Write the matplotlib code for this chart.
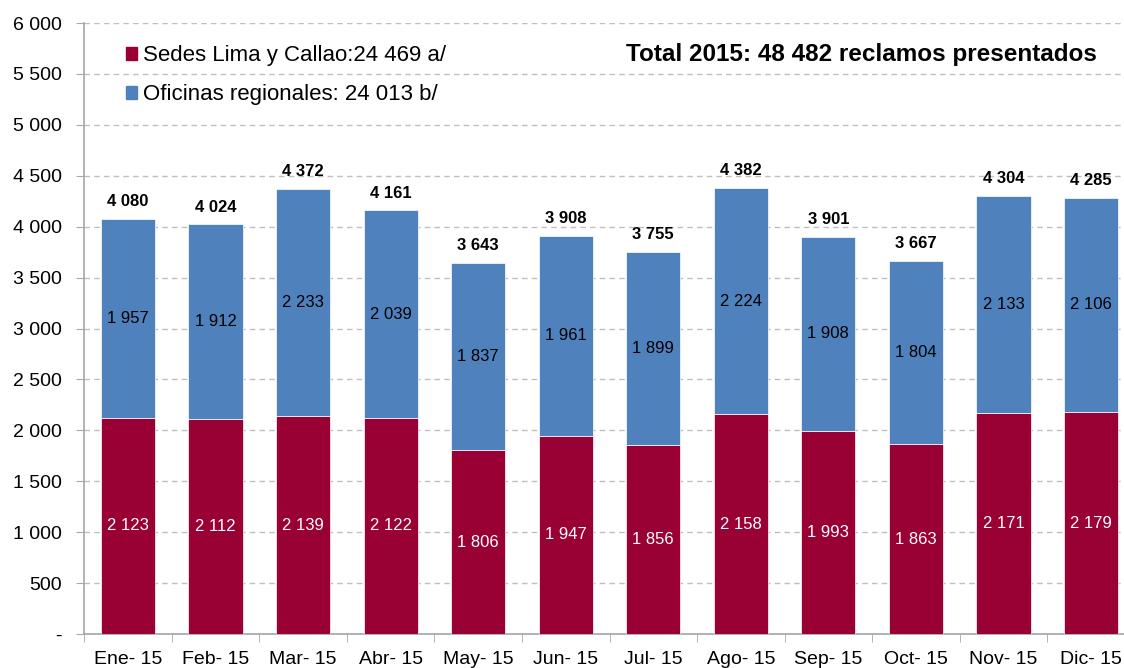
import numpy as np
import matplotlib
matplotlib.use('Agg')
import matplotlib.pyplot as plt
from matplotlib.patches import Patch

plt.rcParams['font.family'] = ['Liberation Sans', 'DejaVu Sans']

meses = ['Ene- 15', 'Feb- 15', 'Mar- 15', 'Abr- 15', 'May- 15', 'Jun- 15',
         'Jul- 15', 'Ago- 15', 'Sep- 15', 'Oct- 15', 'Nov- 15', 'Dic- 15']
lima = [2123, 2112, 2139, 2122, 1806, 1947, 1856, 2158, 1993, 1863, 2171, 2179]
regional = [1957, 1912, 2233, 2039, 1837, 1961, 1899, 2224, 1908, 1804, 2133, 2106]
totales = [4080, 4024, 4372, 4161, 3643, 3908, 3755, 4382, 3901, 3667, 4304, 4285]
yticks = [0, 500, 1000, 1500, 2000, 2500, 3000, 3500, 4000, 4500, 5000, 5500, 6000]


def fmt(v):
    return f'{v:,}'.replace(',', ' ') if v else '-'


red = '#990033'
blue = '#4F81BD'
grey = '#A6A6A6'

fig = plt.figure(figsize=(11.24, 6.68), dpi=100)
ax = fig.add_axes([84.25 / 1124, 34 / 668, 1050.5 / 1124, 611 / 668])

x = np.arange(len(meses))
w = 0.62
ax.bar(x, lima, w, color=red, edgecolor='white', lw=0.5, zorder=3)
ax.bar(x, regional, w, bottom=lima, color=blue, edgecolor='white', lw=0.5, zorder=3)

for i in range(len(meses)):
    ax.text(x[i], lima[i] / 2, fmt(lima[i]), ha='center', va='center',
            color='white', fontsize=12, zorder=4)
    ax.text(x[i], lima[i] + regional[i] / 2, fmt(regional[i]), ha='center',
            va='center', color='black', fontsize=12, zorder=4)
    ax.annotate(fmt(totales[i]), (x[i], lima[i] + regional[i]), xytext=(0, 7),
                textcoords='offset points', ha='center', va='bottom',
                fontsize=12, fontweight='bold')

ax.set_xlim(-0.5, 11.5)
ax.set_ylim(0, 6000)
ax.set_yticks(yticks)
ax.set_yticklabels([fmt(v) for v in yticks], fontsize=14)
ax.set_xticks(x)
ax.set_xticklabels(meses, fontsize=14)
ax.set_xticks(np.arange(-0.5, 12, 1), minor=True)
ax.tick_params(axis='x', which='major', length=0, pad=12)
ax.tick_params(axis='x', which='minor', length=6, color=grey, direction='out')
ax.tick_params(axis='y', length=6, color=grey, pad=10)

ax.yaxis.grid(True, ls=(0, (4, 3)), color='#BFBFBF', lw=1, zorder=0)
ax.set_axisbelow(True)
for s in ['top', 'right']:
    ax.spines[s].set_visible(False)
for s in ['left', 'bottom']:
    ax.spines[s].set_color(grey)
    ax.spines[s].set_linewidth(1.2)

handles = [Patch(color=red), Patch(color=blue)]
ax.legend(handles, ['Sedes Lima y Callao:24 469 a/', 'Oficinas regionales: 24 013 b/'],
          loc='upper left', bbox_to_anchor=(0.0394, 0.9635), frameon=False,
          fontsize=16, handlelength=0.5, handleheight=0.5, handletextpad=0.3,
          labelspacing=0.8, borderaxespad=0, borderpad=0)
ax.text(0.964, 0.948, 'Total 2015: 48 482 reclamos presentados', transform=ax.transAxes,
        ha='right', va='center', fontsize=17.5, fontweight='bold')

fig.savefig('out.png', dpi=100)
